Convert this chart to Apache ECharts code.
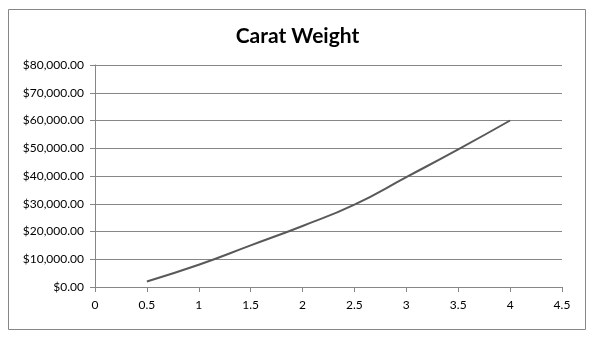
<!DOCTYPE html>
<html>
<head>
<meta charset="utf-8">
<script src="https://cdn.jsdelivr.net/npm/echarts@6/dist/echarts.min.js"></script>
<style>html,body{margin:0;padding:0;background:#fff}#c{width:595px;height:343px}</style>
</head>
<body>
<div id="c"></div>
<script>
var titleText = 'Carat Weight';
var caratWeights = [0.5, 1, 1.5, 2, 2.5, 3, 3.5, 4];
var prices = [2000, 8000, 15000, 22000, 29700, 39600, 49600, 60000];

var chart = echarts.init(document.getElementById('c'), null, {renderer: 'canvas'});
var dataPoints = caratWeights.map(function (x, i) { return [x, prices[i]]; });
var labelFont = {fontFamily: 'Lato', fontSize: 12, color: '#000'};
chart.setOption({
  animation: false,
  backgroundColor: '#fff',
  graphic: [{
    type: 'rect',
    shape: {x: 8.5, y: 9.5, width: 577, height: 320},
    style: {fill: 'none', stroke: '#868686', lineWidth: 1},
    silent: true
  }],
  title: {
    text: titleText,
    left: 'center',
    top: 21,
    textStyle: {fontFamily: 'Lato', fontWeight: 'bold', fontSize: 21, color: '#000'}
  },
  grid: {left: 95, right: 33, top: 65, bottom: 56},
  xAxis: {
    type: 'value',
    min: 0, max: 4.5, interval: 0.5,
    axisLine: {show: true, lineStyle: {color: '#868686', width: 1}},
    axisTick: {show: true, inside: false, length: 5, lineStyle: {color: '#868686'}},
    axisLabel: Object.assign({margin: 12}, labelFont),
    splitLine: {show: false}
  },
  yAxis: {
    type: 'value',
    min: 0, max: 80000, interval: 10000,
    axisLine: {show: true, lineStyle: {color: '#868686', width: 1}},
    axisTick: {show: true, inside: false, length: 5, lineStyle: {color: '#868686'}},
    axisLabel: Object.assign({
      margin: 11,
      formatter: function (v) {
        return '$' + v.toLocaleString('en-US', {minimumFractionDigits: 2, maximumFractionDigits: 2});
      }
    }, labelFont),
    splitLine: {show: true, lineStyle: {color: '#868686', width: 1}}
  },
  series: [{
    type: 'line',
    data: dataPoints,
    smooth: 0.5,
    showSymbol: false,
    lineStyle: {color: '#595959', width: 2}
  }]
});
</script>
</body>
</html>
